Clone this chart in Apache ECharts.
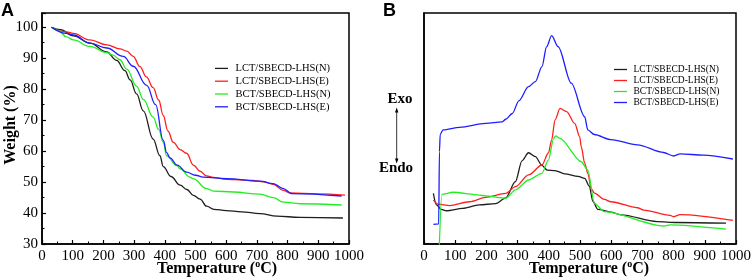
<!DOCTYPE html>
<html>
<head>
<meta charset="utf-8">
<script src="https://cdn.jsdelivr.net/npm/echarts@6/dist/echarts.min.js"></script>
<style>
html,body{margin:0;padding:0;background:#fff;}
#main{width:754px;height:280px;}
</style>
</head>
<body>
<div id="main"></div>
<script>
var names = ['LCT/SBECD-LHS(N)', 'LCT/SBECD-LHS(E)', 'BCT/SBECD-LHS(N)', 'BCT/SBECD-LHS(E)'];
var colors = ['#1e1e1e', '#ff1e1e', '#22ee22', '#1e1eff'];
var xTicks = [0, 100, 200, 300, 400, 500, 600, 700, 800, 900, 1000];
var wtTicks = [30, 40, 50, 60, 70, 80, 90, 100];

// A - TGA, temperature (C) / weight (%)
var tgaLctN_T = [31, 60, 102, 156, 211, 243, 270, 287, 308, 330, 362, 384, 395, 420, 450, 472, 493, 515, 536, 560, 600, 650, 710, 765, 840, 980];
var tgaLctN_W = [100, 99.2, 97.2, 94.9, 92.0, 89.3, 86.0, 83.0, 78.5, 73.0, 63.9, 58.5, 55.0, 51.8, 49.0, 47.6, 45.7, 44.5, 42.2, 41.2, 40.8, 40.4, 39.8, 39.0, 38.6, 38.4];
var tgaLctE_T = [31, 80, 102, 156, 211, 254, 276, 297, 319, 340, 362, 380, 395, 410, 428, 450, 471, 493, 515, 536, 558, 601, 688, 721, 753, 786, 808, 895, 987];
var tgaLctE_W = [100, 98.5, 98.0, 95.9, 94.3, 93.0, 92.3, 90.6, 87.3, 84.0, 80.5, 76.5, 71.5, 66.5, 62.8, 60.5, 59.3, 55.5, 53.5, 52.0, 51.5, 50.9, 50.5, 50.1, 49.3, 47.3, 46.5, 46.2, 45.8];
var tgaBctN_T = [31, 53, 80, 102, 156, 211, 231, 254, 276, 308, 330, 362, 380, 395, 406, 439, 450, 482, 493, 536, 558, 623, 710, 753, 786, 840, 976];
var tgaBctN_W = [100, 98.9, 96.9, 95.9, 93.8, 91.8, 91.0, 89.5, 86.5, 81.0, 76.7, 71.0, 67.0, 62.8, 58.5, 55.3, 54.3, 51.6, 51.0, 47.9, 47.1, 46.8, 46.1, 45.0, 43.5, 43.0, 42.6];
var tgaBctE_T = [31, 80, 102, 156, 211, 265, 297, 341, 370, 395, 406, 417, 440, 471, 500, 525, 601, 710, 753, 786, 813, 976];
var tgaBctE_W = [100, 98.0, 97.5, 94.9, 93.3, 90.6, 87.4, 81.2, 75.0, 63.5, 59.5, 57.8, 55.5, 53.2, 52.2, 51.6, 51.1, 50.3, 49.5, 47.9, 46.3, 45.5];

// B - DSC, temperature (C) / heat flow (arbitrary units)
var dscLctN_T = [30, 40, 55, 72, 124, 177, 230, 262, 293, 314, 335, 357, 378, 395, 420, 451, 494, 515, 530, 541, 557, 599, 631, 747, 810, 968];
var dscLctN_V = [21.9, 16.9, 15.0, 14.4, 15.4, 16.9, 17.5, 20.0, 27.0, 36.0, 39.5, 37.8, 34.0, 32.0, 31.8, 30.4, 29.3, 28.4, 25.0, 18.5, 15.0, 13.8, 12.6, 9.7, 9.3, 9.0];
var dscLctE_T = [30, 45, 82, 146, 198, 262, 293, 335, 378, 399, 409, 420, 436, 457, 483, 499, 504, 515, 525, 536, 546, 578, 599, 684, 704, 789, 800, 821, 990];
var dscLctE_V = [19.0, 17.3, 16.6, 18.3, 20.2, 21.9, 24.8, 29.9, 34.2, 39.5, 45.0, 53.7, 58.7, 57.3, 52.2, 46.5, 42.1, 35.0, 30.6, 24.0, 22.0, 19.3, 18.3, 15.7, 14.7, 12.4, 11.8, 12.7, 10.2];
var dscBctN_T = [48, 57, 93, 177, 198, 262, 293, 335, 378, 399, 415, 422, 436, 504, 525, 546, 578, 768, 789, 968];
var dscBctN_V = [-5, 21.5, 22.4, 21.2, 20.8, 19.8, 23.4, 27.7, 30.6, 36.4, 45.5, 46.8, 45.7, 35.6, 32.0, 17.6, 14.0, 7.8, 8.3, 6.4];
var dscBctE_T = [30, 47, 49.5, 52, 61, 114, 198, 251, 262, 283, 304, 335, 357, 378, 393, 409, 430, 472, 515, 525, 546, 599, 684, 768, 800, 821, 895, 990];
var dscBctE_V = [8.5, 8.7, 40, 47.5, 49.4, 50.5, 52.2, 52.9, 54.0, 56.5, 62.0, 68.1, 70.3, 76.8, 85.4, 90.2, 85.4, 69.6, 55.1, 49.4, 47.4, 45.2, 42.9, 39.6, 38.1, 39.0, 38.5, 36.8];

function pairs(xs, ys) {
    return xs.map(function (x, i) { return [x, ys[i]]; });
}

var serif = 'Liberation Serif';
var lineIcon = 'path://M0,0 L10,0 L10,1 L0,1 Z';

function xAx(grid) {
    return {
        type: 'value', gridIndex: grid, min: xTicks[0], max: xTicks[xTicks.length - 1], interval: 100,
        axisLine: { lineStyle: { color: '#000', width: 1.5 } },
        axisTick: { inside: true, length: 4, lineStyle: { color: '#000', width: 1.2 } },
        minorTick: { show: true, splitNumber: 2, length: 2.5, lineStyle: { color: '#000', width: 1 } },
        axisLabel: { color: '#000', fontFamily: serif, fontSize: 15, margin: 5, formatter: function (v) { return String(v); } },
        splitLine: { show: false }
    };
}

function line(name, i, grid, xs, ys, sm) {
    return {
        name: name, type: 'line', xAxisIndex: grid, yAxisIndex: grid,
        data: pairs(xs, ys), symbol: 'none', showSymbol: false, smooth: sm, smoothMonotone: 'x',
        lineStyle: { color: colors[i], width: 1.3 }, itemStyle: { color: colors[i] }
    };
}

var chart = echarts.init(document.getElementById('main'));
var option = {
    backgroundColor: '#fff',
    animation: false,
    grid: [
        { left: 42, top: 13, width: 307, height: 231, show: true, borderColor: '#000', borderWidth: 1.5 },
        { left: 424, top: 13, width: 316, height: 231, show: true, borderColor: '#000', borderWidth: 1.5 }
    ],
    xAxis: [xAx(0), xAx(1)],
    yAxis: [
        {
            type: 'value', gridIndex: 0, min: wtTicks[0], max: 104.6, interval: 10,
            axisLine: { show: true, lineStyle: { color: '#000', width: 1.5 } },
            axisTick: { inside: true, length: 4, lineStyle: { color: '#000', width: 1.2 } },
            minorTick: { show: true, splitNumber: 2, length: 2.5, lineStyle: { color: '#000', width: 1 } },
            axisLabel: {
                color: '#000', fontFamily: serif, fontSize: 15, margin: 4,
                formatter: function (v) { return wtTicks.indexOf(v) >= 0 ? String(v) : ''; }
            },
            splitLine: { show: false }
        },
        {
            type: 'value', gridIndex: 1, min: 0, max: 100,
            axisLine: { show: true, lineStyle: { color: '#000', width: 1.5 } },
            axisTick: { show: false }, axisLabel: { show: false }, splitLine: { show: false }
        }
    ],
    legend: [
        {
            left: 215, top: 62, padding: 0, orient: 'vertical', icon: lineIcon,
            itemWidth: 26, itemHeight: 1.3, itemGap: 0,
            data: names, textStyle: { color: '#000', fontFamily: serif, fontSize: 10.5, lineHeight: 12.8, padding: [0, 0, 0, -4] }
        },
        {
            left: 614, top: 64, padding: 0, orient: 'vertical', icon: lineIcon,
            itemWidth: 24, itemHeight: 1.3, itemGap: 0,
            data: names, textStyle: { color: '#000', fontFamily: serif, fontSize: 9.5, lineHeight: 11, padding: [0, 0, 0, -4] }
        }
    ],
    series: [
        line(names[0], 0, 0, tgaLctN_T, tgaLctN_W, 0.4),
        line(names[1], 1, 0, tgaLctE_T, tgaLctE_W, 0.4),
        line(names[2], 2, 0, tgaBctN_T, tgaBctN_W, 0.4),
        line(names[3], 3, 0, tgaBctE_T, tgaBctE_W, 0.4),
        line(names[0], 0, 1, dscLctN_T, dscLctN_V, 0.3),
        line(names[1], 1, 1, dscLctE_T, dscLctE_V, 0.3),
        line(names[2], 2, 1, dscBctN_T, dscBctN_V, 0.25),
        line(names[3], 3, 1, dscBctE_T, dscBctE_V, 0.3)
    ],
    graphic: [
        { type: 'text', x: 1, y: 11, style: { text: 'A', font: "bold 18px 'Liberation Sans'", fill: '#000', align: 'left', verticalAlign: 'middle' } },
        { type: 'text', x: 383, y: 11, style: { text: 'B', font: "bold 18px 'Liberation Sans'", fill: '#000', align: 'left', verticalAlign: 'middle' } },
        { type: 'text', x: 11, y: 125, rotation: Math.PI / 2, style: { text: 'Weight (%)', font: "bold 16px 'Liberation Serif'", fill: '#000', align: 'center', verticalAlign: 'middle' } },
        {
            type: 'text', x: 217, y: 268,
            style: {
                text: '{n|Temperature (}{s|o}{n|C)}', align: 'center', verticalAlign: 'middle', fill: '#000',
                rich: {
                    n: { fontFamily: serif, fontWeight: 'bold', fontSize: 16, lineHeight: 18, verticalAlign: 'bottom' },
                    s: { fontFamily: serif, fontWeight: 'bold', fontSize: 10, verticalAlign: 'top' }
                }
            }
        },
        {
            type: 'text', x: 589, y: 268,
            style: {
                text: '{n|Temperature (}{s|o}{n|C)}', align: 'center', verticalAlign: 'middle', fill: '#000',
                rich: {
                    n: { fontFamily: serif, fontWeight: 'bold', fontSize: 16, lineHeight: 18, verticalAlign: 'bottom' },
                    s: { fontFamily: serif, fontWeight: 'bold', fontSize: 10, verticalAlign: 'top' }
                }
            }
        },
        { type: 'text', x: 400, y: 99, style: { text: 'Exo', font: "bold 15px 'Liberation Serif'", fill: '#000', align: 'center', verticalAlign: 'middle' } },
        { type: 'text', x: 396, y: 168, style: { text: 'Endo', font: "bold 15px 'Liberation Serif'", fill: '#000', align: 'center', verticalAlign: 'middle' } },
        { type: 'line', shape: { x1: 396.7, y1: 110, x2: 396.7, y2: 161 }, style: { stroke: '#000', lineWidth: 0.8 } },
        { type: 'polygon', shape: { points: [[396.7, 107.5], [395, 112.5], [398.4, 112.5]] }, style: { fill: '#000' } },
        { type: 'polygon', shape: { points: [[396.7, 163.5], [395, 158.5], [398.4, 158.5]] }, style: { fill: '#000' } }
    ]
};
chart.setOption(option);
</script>
</body>
</html>
